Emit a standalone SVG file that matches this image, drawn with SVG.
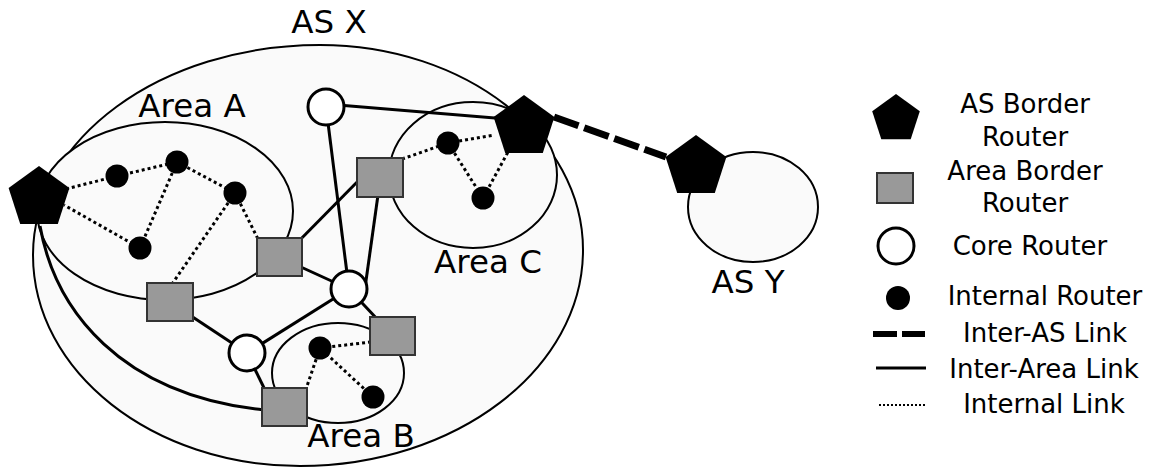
<svg xmlns="http://www.w3.org/2000/svg" width="1157" height="468" viewBox="0 0 1157 468">
<style>
.region{fill:#fafafa;stroke:#000;stroke-width:2}
.link{fill:none;stroke:#000;stroke-width:3}
.internal{fill:none;stroke:#000;stroke-width:3;stroke-dasharray:3 3}
.interas{fill:none;stroke:#000;stroke-width:7;stroke-dasharray:26 6}
.asbr{fill:#000}
.abr{fill:#999;stroke:#333;stroke-width:2}
.core{fill:#fff;stroke:#000;stroke-width:3}
.ir{fill:#000}
.label{font-family:"DejaVu Sans",Verdana,sans-serif;font-size:32.5px;text-anchor:middle;fill:#000}
.leg{font-family:"DejaVu Sans",Verdana,sans-serif;font-size:26px;text-anchor:middle;fill:#000}
</style>
<rect width="1157" height="468" fill="#fff"/>
<g id="as-x">
<path class="region" d="M320,45 C465,45 583,137 583,250 C583,369 456,466 300,466 C153,466 33,372 33,255 C33,139 161,45 320,45 Z"/>
<text class="label" x="329" y="33">AS X</text>
</g>
<g id="as-y">
<ellipse class="region" cx="753" cy="207" rx="65" ry="55"/>
<text class="label" x="748" y="293">AS Y</text>
</g>
<g id="area-a">
<ellipse class="region" cx="165" cy="211" rx="128" ry="89"/>
<text class="label" x="192" y="117">Area A</text>
</g>
<g id="area-b">
<ellipse class="region" cx="338" cy="373" rx="66" ry="50"/>
<text class="label" x="361" y="447">Area B</text>
</g>
<g id="area-c">
<ellipse class="region" cx="473" cy="175" rx="84" ry="73"/>
<text class="label" x="488" y="273">Area C</text>
</g>
<g id="connectors">
<path class="interas" d="M554,117 L666,157"/>
<path class="link" d="M40,226 C55,310 120,395 264,410"/>
<path class="link" d="M326,104 L520,120"/>
<path class="link" d="M326,107 L349,289"/>
<path class="link" d="M378,195 L365,288"/>
<path class="link" d="M365,174 L290,250"/>
<path class="link" d="M279,257 L349,289"/>
<path class="link" d="M349,289 L247,353"/>
<path class="link" d="M349,289 L393,336"/>
<path class="link" d="M170,302 L247,353"/>
<path class="link" d="M247,353 L266,392"/>
<path class="internal" d="M66,189 L117,176 L177,162 L235,193"/>
<path class="internal" d="M177,162 L140,248 L64,205"/>
<path class="internal" d="M235,193 L172,284"/>
<path class="internal" d="M235,193 L258,239"/>
<path class="internal" d="M402,159 L448,143 L494,135"/>
<path class="internal" d="M448,143 L483,198 L508,152"/>
<path class="internal" d="M371,342 L320,348 L373,397"/>
<path class="internal" d="M320,348 L306,389"/>
</g>
<g id="asbr-left"><polygon class="asbr" points="39,166 69.4,188.1 57.8,223.9 20.2,223.9 8.6,188.1"/></g>
<g id="asbr-x"><polygon class="asbr" points="524,95 554.4,117.1 542.8,152.9 505.2,152.9 493.6,117.1"/></g>
<g id="asbr-y"><polygon class="asbr" points="696,135 726.4,157.1 714.8,192.9 677.2,192.9 665.6,157.1"/></g>
<g id="abr-a1"><rect class="abr" x="147" y="283" width="46" height="38"/></g>
<g id="abr-a2"><rect class="abr" x="257" y="238" width="45" height="38"/></g>
<g id="abr-c"><rect class="abr" x="357" y="158" width="46" height="39"/></g>
<g id="abr-b1"><rect class="abr" x="262" y="388" width="45" height="38"/></g>
<g id="abr-b2"><rect class="abr" x="370" y="317" width="45" height="38"/></g>
<g id="core-top"><circle class="core" cx="326" cy="107" r="18"/></g>
<g id="core-mid"><circle class="core" cx="349" cy="289" r="18"/></g>
<g id="core-low"><circle class="core" cx="247" cy="353" r="18"/></g>
<g id="ir-a1"><circle class="ir" cx="117" cy="176" r="11.5"/></g>
<g id="ir-a2"><circle class="ir" cx="177" cy="162" r="11.5"/></g>
<g id="ir-a3"><circle class="ir" cx="235" cy="193" r="11.5"/></g>
<g id="ir-a4"><circle class="ir" cx="140" cy="248" r="11.5"/></g>
<g id="ir-c1"><circle class="ir" cx="448" cy="143" r="11.5"/></g>
<g id="ir-c2"><circle class="ir" cx="483" cy="198" r="11.5"/></g>
<g id="ir-b1"><circle class="ir" cx="320" cy="348" r="11.5"/></g>
<g id="ir-b2"><circle class="ir" cx="373" cy="397" r="11.5"/></g>
<g id="legend">
<polygon class="asbr" points="896,94 919.8,111.3 910.7,139.2 881.3,139.2 872.2,111.3"/>
<text class="leg" x="1025" y="113">AS Border</text>
<text class="leg" x="1025" y="146">Router</text>
<rect class="abr" x="877" y="173" width="36" height="30"/>
<text class="leg" x="1025" y="180">Area Border</text>
<text class="leg" x="1025" y="212">Router</text>
<circle class="core" cx="896" cy="246" r="18"/>
<text class="leg" x="1030" y="255">Core Router</text>
<circle class="ir" cx="898" cy="298" r="12"/>
<text class="leg" x="1045" y="305">Internal Router</text>
<path d="M873,334 L925,334" fill="none" stroke="#000" stroke-width="6" stroke-dasharray="24 5"/>
<text class="leg" x="1045" y="342">Inter-AS Link</text>
<path d="M876,368 L926,368" fill="none" stroke="#000" stroke-width="3"/>
<text class="leg" x="1044" y="378">Inter-Area Link</text>
<path d="M879,405 L925,405" fill="none" stroke="#000" stroke-width="2" stroke-dasharray="2 2"/>
<text class="leg" x="1044" y="413">Internal Link</text>
</g>
</svg>
